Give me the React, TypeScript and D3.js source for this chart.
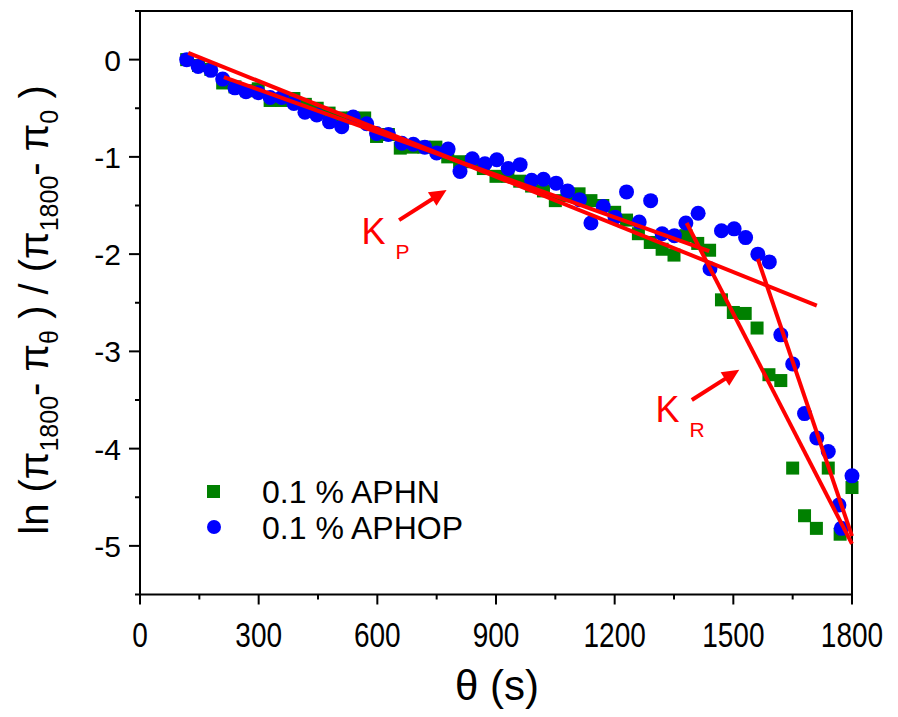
import React, { useEffect } from "react";
import * as d3 from "d3";

// ---- data ----
const aphnTheta = [118, 148, 179, 209, 240, 270, 299, 329, 358, 389, 418, 448, 478, 508, 538, 568, 598, 628, 658, 688, 718, 748, 778, 808, 838, 868, 900, 930, 960, 990, 1020, 1050, 1080, 1110, 1140, 1170, 1200, 1230, 1260, 1290, 1320, 1350, 1380, 1410, 1440, 1470, 1500, 1530, 1560, 1590, 1620, 1650, 1680, 1710, 1740, 1770, 1800];
const aphnVal = [0, -0.06, -0.1, -0.24, -0.28, -0.32, -0.3, -0.42, -0.42, -0.4, -0.46, -0.5, -0.55, -0.6, -0.6, -0.6, -0.79, -0.77, -0.91, -0.9, -0.9, -0.9, -1.0, -1.05, -1.05, -1.12, -1.2, -1.2, -1.25, -1.3, -1.35, -1.45, -1.4, -1.38, -1.45, -1.5, -1.57, -1.65, -1.79, -1.88, -1.95, -2.01, -1.81, -1.89, -1.96, -2.47, -2.6, -2.61, -2.76, -3.24, -3.3, -4.2, -4.69, -4.82, -4.2, -4.88, -4.4];

const aphopTheta = [118, 147, 179, 209, 240, 268, 299, 329, 358, 389, 417, 447, 479, 510, 539, 573, 598, 628, 662, 691, 720, 750, 779, 809, 840, 872, 902, 931, 961, 990, 1020, 1052, 1081, 1111, 1140, 1171, 1201, 1230, 1262, 1291, 1320, 1351, 1380, 1411, 1441, 1470, 1502, 1531, 1562, 1591, 1620, 1650, 1680, 1711, 1740, 1767, 1773, 1800];
const aphopVal = [0, -0.07, -0.11, -0.2, -0.29, -0.33, -0.34, -0.39, -0.39, -0.45, -0.54, -0.57, -0.64, -0.69, -0.59, -0.66, -0.76, -0.77, -0.86, -0.87, -0.9, -0.96, -0.92, -1.15, -1.02, -1.07, -1.03, -1.12, -1.08, -1.24, -1.23, -1.27, -1.35, -1.44, -1.68, -1.51, -1.62, -1.36, -1.67, -1.45, -1.79, -1.81, -1.68, -1.58, -2.15, -1.76, -1.74, -1.83, -2.0, -2.08, -2.83, -3.13, -3.64, -3.89, -4.03, -4.58, -4.82, -4.28];

// fitted lines: [theta0, val0, theta1, val1]
const fitLines = [
  [122, 0.07, 1711, -2.53],
  [212, -0.18, 1439, -1.97],
  [1382, -1.68, 1800, -4.98],
  [1562, -2.05, 1800, -4.9],
];
// arrows: [fromTheta, fromVal, toTheta, toVal]
const arrows = [
  [655, -1.65, 775, -1.34],
  [1395, -3.5, 1515, -3.19],
];
const labelKP = { theta: 560, val: -1.9, main: "K", sub: "P" };
const labelKR = { theta: 1303, val: -3.73, main: "K", sub: "R" };

const xTicks = [0, 300, 600, 900, 1200, 1500, 1800];
const xMinor = [150, 450, 750, 1050, 1350, 1650];
const yTicks = [0, -1, -2, -3, -4, -5];
const yMinor = [0.5, -0.5, -1.5, -2.5, -3.5, -4.5, -5.5];

const seriesNames = ["0.1 % APHN", "0.1 % APHOP"];

const W = 898, H = 717;
const FONT = "'Liberation Sans', Arial, sans-serif";

export default function App() {
  useEffect(() => {
    document.body.style.margin = "0";
  }, []);
  const x = d3.scaleLinear().domain([0, 1800]).range([140, 852]);
  const y = d3.scaleLinear().domain([-5.5, 0.5]).range([594.5, 11]);
  const [x0, x1] = x.range();
  const [yb, yt] = y.range();

  const arrowEls = arrows.map((a, i) => {
    const sx = x(a[0]), sy = y(a[1]), ex = x(a[2]), ey = y(a[3]);
    const ang = Math.atan2(ey - sy, ex - sx);
    const hl = 17, hw = 8;
    const bx = ex - hl * Math.cos(ang), by = ey - hl * Math.sin(ang);
    const px = -Math.sin(ang), py = Math.cos(ang);
    const pts = [[ex, ey], [bx + hw * px, by + hw * py], [bx - hw * px, by - hw * py]];
    return (
      <g key={"ar" + i}>
        <line x1={sx} y1={sy} x2={bx + 2 * Math.cos(ang)} y2={by + 2 * Math.sin(ang)} stroke="#ff0000" strokeWidth={4} />
        <polygon points={pts.map((p) => p.join(",")).join(" ")} fill="#ff0000" />
      </g>
    );
  });

  return (
    <svg width={W} height={H} style={{ display: "block", background: "#fff" }} fontFamily={FONT}>
      <rect x={0} y={0} width={W} height={H} fill="#fff" />
      {/* frame */}
      <rect x={x0} y={yt} width={x1 - x0} height={yb - yt} fill="none" stroke="#000" strokeWidth={2} />
      {/* x ticks */}
      {xTicks.map((t) => (
        <g key={"xt" + t}>
          <line x1={x(t)} x2={x(t)} y1={yb} y2={yb + 10} stroke="#000" strokeWidth={2} />
          <text transform={`translate(${x(t)},647) scale(0.8,1)`} fontSize={35} textAnchor="middle" fill="#000">{t}</text>
        </g>
      ))}
      {xMinor.map((t) => (
        <line key={"xm" + t} x1={x(t)} x2={x(t)} y1={yb} y2={yb + 5} stroke="#000" strokeWidth={2} />
      ))}
      {/* y ticks */}
      {yTicks.map((t) => (
        <g key={"yt" + t}>
          <line x1={x0 - 11} x2={x0} y1={y(t)} y2={y(t)} stroke="#000" strokeWidth={2} />
          <text x={121} y={y(t) + 11} fontSize={30} textAnchor="end" fill="#000">{t}</text>
        </g>
      ))}
      {yMinor.map((t) => (
        <line key={"ym" + t} x1={x0 - 5} x2={x0} y1={y(t)} y2={y(t)} stroke="#000" strokeWidth={2} />
      ))}
      {/* data */}
      {aphnTheta.map((t, i) => (
        <rect key={"g" + i} x={x(t) - 6.5} y={y(aphnVal[i]) - 6.5} width={13} height={13} fill="#008000" />
      ))}
      {aphopTheta.map((t, i) => (
        <circle key={"b" + i} cx={x(t)} cy={y(aphopVal[i])} r={7.5} fill="#0000ff" />
      ))}
      {/* fit lines */}
      {fitLines.map((l, i) => (
        <line key={"f" + i} x1={x(l[0])} y1={y(l[1])} x2={x(l[2])} y2={y(l[3])} stroke="#ff0000" strokeWidth={4} />
      ))}
      {arrowEls}
      {[labelKP, labelKR].map((lb, i) => (
        <text key={"lb" + i} x={x(lb.theta)} y={y(lb.val)} fill="#ff0000" fontSize={36}>
          {lb.main}
          <tspan dx={10} dy={15} fontSize={21}>{lb.sub}</tspan>
        </text>
      ))}
      {/* legend */}
      <rect x={207} y={485} width={13} height={13} fill="#008000" />
      <text x={262} y={503} fontSize={32} fill="#000">{seriesNames[0]}</text>
      <circle cx={214} cy={527} r={7} fill="#0000ff" />
      <text x={262} y={539} fontSize={32} fill="#000">{seriesNames[1]}</text>
      {/* axis titles */}
      <text x={497} y={700} fontSize={42} textAnchor="middle" fill="#000">θ (s)</text>
      <text transform="translate(48,310) rotate(-90)" fontSize={40} textAnchor="middle" fill="#000">
        ln (π<tspan fontSize={25} dy={10}>1800</tspan>
        <tspan dy={-10}>- π</tspan>
        <tspan fontSize={25} dy={10}>θ</tspan>
        <tspan dy={-10}> ) / (π</tspan>
        <tspan fontSize={25} dy={10}>1800</tspan>
        <tspan dy={-10}>- π</tspan>
        <tspan fontSize={25} dy={10}>0</tspan>
        <tspan dy={-10}> )</tspan>
      </text>
    </svg>
  );
}
